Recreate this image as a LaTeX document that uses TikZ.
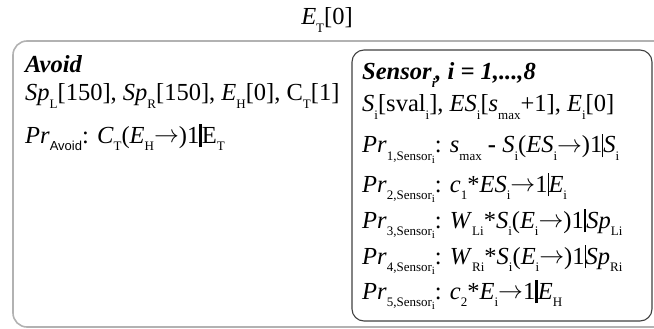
\documentclass[tikz,border=0pt]{standalone}
\usepackage{fontspec}
\setmainfont{Liberation Serif}
\newfontfamily\ssf{Liberation Sans}
\newcommand\lo[1]{\raisebox{-0.30em}{\fontsize{13}{13}\selectfont #1}}
\newcommand\llo[1]{\raisebox{-0.28em}{\fontsize{11}{11}\selectfont #1}}
\newcommand\thk{\rule[-0.18em]{2.6pt}{0.95em}}
\newcommand\thn{\rule[-0.18em]{1pt}{0.95em}}
\newcommand\arr{\raisebox{0.02em}{$\rightarrow$}}
\tikzset{
  txt/.style={anchor=base west, inner sep=0pt, font=\fontsize{24.5}{28}\selectfont},
  outerbox/.style={draw=gray!60, line width=1.6pt, rounded corners=14pt},
  innerbox/.style={draw=black!75, line width=1.1pt, rounded corners=12pt}
}
\begin{document}
\begin{tikzpicture}[x=1pt,y=-1pt]
\useasboundingbox (0,0) rectangle (654,329);
\draw[outerbox] (13,41) rectangle (672,327);
\draw[innerbox] (352,50) rectangle (652,321);
\node[txt, anchor=base] (et) at (327,25) {\textit{E}\lo{T}[0]};
\node[txt] (avoid) at (25,73) {\textbf{\textit{Avoid}}};
\node[txt] (avars) at (25,101) {\textit{Sp}\lo{L}[150], \textit{Sp}\lo{R}[150], \textit{E}\lo{H}[0], C\lo{T}[1]};
\node[txt] (apr) at (25,143) {\textit{Pr}\lo{\ssf Avoid}: \textit{C}\lo{T}(\textit{E}\lo{H}\arr)1\thk E\lo{T}};
\node[txt] (sensor) at (362,80) {\textbf{\textit{Sensor}}\lo{\textbf{\textit{i}}}\textbf{\textit{, i = 1,...,8}}};
\node[txt] (svars) at (362,112) {\textit{S}\lo{i}[sval\lo{i}], \textit{ES}\lo{i}[\textit{s}\lo{max}+1], \textit{E}\lo{i}[0]};
\node[txt] (p1) at (362,153) {\textit{Pr}\lo{1,Sensor\llo{i}}: \textit{s}\lo{max} \textbf{-} \textit{S}\lo{i}(\textit{ES}\lo{i}\arr)1\thn\textit{S}\lo{i}};
\node[txt] (p2) at (362,192) {\textit{Pr}\lo{2,Sensor\llo{i}}: \textit{c}\lo{1}*\textit{ES}\lo{i}\arr1\thn\textit{E}\lo{i}};
\node[txt] (p3) at (362,228) {\textit{Pr}\lo{3,Sensor\llo{i}}: \textit{W}\lo{Li}*\textit{S}\lo{i}(\textit{E}\lo{i}\arr)1\thk\textit{Sp}\lo{Li}};
\node[txt] (p4) at (362,264) {\textit{Pr}\lo{4,Sensor\llo{i}}: \textit{W}\lo{Ri}*\textit{S}\lo{i}(\textit{E}\lo{i}\arr)1\thn\textit{Sp}\lo{Ri}};
\node[txt] (p5) at (362,299) {\textit{Pr}\lo{5,Sensor\llo{i}}: \textit{c}\lo{2}*\textit{E}\lo{i}\arr1\thk\textit{E}\lo{H}};
\end{tikzpicture}
\end{document}
